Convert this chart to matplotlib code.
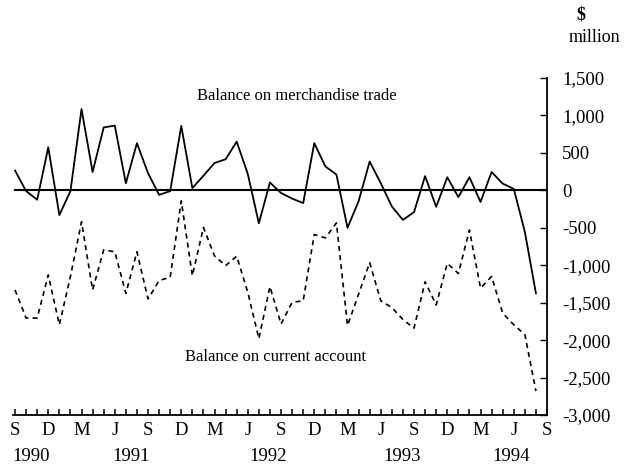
import matplotlib.pyplot as plt
import numpy as np

# monthly values, Sep 1990 .. Aug 1994 ($ million)
merch = [265, -10, -125, 575, -330, -10, 1085, 245, 840, 865, 95, 630,
         230, -60, -10, 860, 30, 195, 365, 415, 650, 220, -440, 105,
         -35, -110, -170, 630, 320, 210, -500, -145, 385, 95, -215, -395,
         -290, 190, -220, 175, -90, 175, -155, 245, 90, 20, -555, -1375]
current = [-1330, -1705, -1705, -1130, -1795, -1150, -420, -1330, -795, -820, -1375, -820,
           -1450, -1205, -1160, -140, -1140, -495, -875, -1005, -880, -1360, -1980, -1285,
           -1785, -1495, -1475, -590, -635, -435, -1805, -1385, -965, -1475, -1565, -1725,
           -1840, -1220, -1530, -975, -1110, -530, -1305, -1150, -1640, -1795, -1925, -2680]
quarter_labels = ['S', 'D', 'M', 'J'] * 4 + ['S']
year_labels = ['1990', '1991', '1992', '1993', '1994']
year_pos = [1.5, 10.5, 22.8, 34.9, 44.8]

plt.rcParams['font.family'] = ['Liberation Serif', 'DejaVu Serif']
plt.rcParams['font.size'] = 12

fig = plt.figure(figsize=(6.34, 4.68), dpi=100)
ax = fig.add_axes([0.0202, 0.1132, 0.8426, 0.7201])

x = np.arange(len(merch))
ax.plot(x, merch, color='black', lw=1.3)
ax.plot(x, current, color='black', lw=1.2, linestyle=(0, (3, 2.5)))
ax.axhline(0, color='black', lw=1.5, xmin=0.004)

ax.set_xlim(-0.2, 47.9)
ax.set_ylim(-3000, 1500)

for s in ['left', 'top']:
	ax.spines[s].set_visible(False)
ax.spines['right'].set_linewidth(1.3)
ax.spines['bottom'].set_linewidth(1.3)

ax.yaxis.tick_right()
ax.set_yticks(np.arange(-3000, 1501, 500))
ax.set_yticklabels(['{:,}'.format(v) for v in range(-3000, 1501, 500)])
ax.tick_params(axis='y', direction='in', length=5, width=1, pad=11, labelsize=13.5)

ax.set_xticks(np.arange(0, 49, 3))
ax.set_xticklabels(quarter_labels)
ax.set_xticks(np.arange(0, 49, 1), minor=True)
ax.tick_params(axis='x', which='both', direction='in', length=4, width=1.1, pad=5, labelsize=13.5)

for lab, p in zip(year_labels, year_pos):
	ax.text(p, -0.122, lab, transform=ax.get_xaxis_transform(), ha='center', va='center', fontsize=13.5)

ax.text(25.4, 1257, 'Balance on merchandise trade', ha='center', va='center', fontsize=12)
ax.text(23.5, -2219, 'Balance on current account', ha='center', va='center', fontsize=12)

fig.text(576/634, 1 - 15/468, '$', ha='left', va='center', fontsize=13, fontweight='bold')
fig.text(569/634, 1 - 37/468, 'million', ha='left', va='center', fontsize=13)

fig.savefig('out.png', dpi=100)
